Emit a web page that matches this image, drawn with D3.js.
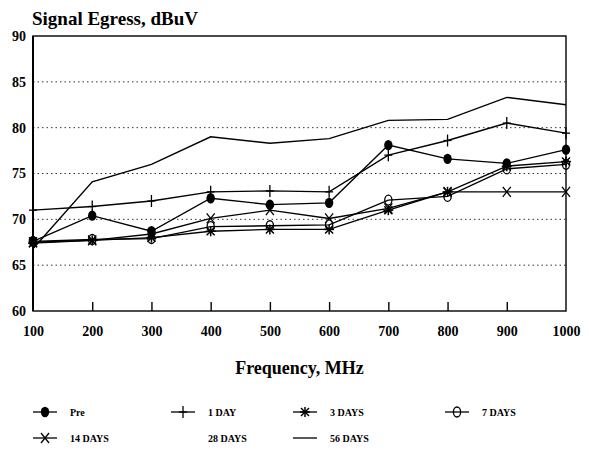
<!DOCTYPE html>
<html>
<head>
<meta charset="utf-8">
<script src="https://cdn.jsdelivr.net/npm/d3@7"></script>
<style>
  html, body { margin: 0; padding: 0; background: #fff; }
  svg { display: block; }
  text { font-family: "Liberation Serif", "Times New Roman", serif; font-weight: bold; fill: #000; }
</style>
</head>
<body>
<script>
const frequencies = [100, 200, 300, 400, 500, 600, 700, 800, 900, 1000];
const yTicks = [60, 65, 70, 75, 80, 85, 90];
const gridValues = [65, 70, 75, 80, 85];

const pre    = [67.6, 70.4, 68.7, 72.3, 71.6, 71.8, 78.1, 76.6, 76.1, 77.6];
const day1   = [71.0, 71.4, 72.0, 73.0, 73.1, 73.0, 77.0, 78.6, 80.5, 79.4];
const day3   = [67.4, 67.7, 68.0, 68.7, 68.9, 68.9, 71.0, 73.0, 75.8, 76.3];
const day7   = [67.6, 67.8, 67.9, 69.2, 69.3, 69.4, 72.1, 72.5, 75.5, 76.0];
const day14  = [67.5, 67.7, 68.4, 70.1, 71.0, 70.1, 71.2, 73.0, 73.0, 73.0];
const day28  = [];
const day56  = [66.8, 74.1, 76.0, 79.0, 78.3, 78.8, 80.8, 80.9, 83.3, 82.5];

const seriesNames = ["Pre", "1 DAY", "3 DAYS", "7 DAYS", "14 DAYS", "28 DAYS", "56 DAYS"];
const seriesValues = [pre, day1, day3, day7, day14, day28, day56];
const seriesMarkers = ["dot", "plus", "asterisk", "circle", "cross", "none", "none"];

const W = 589, H = 460;
const margin = { left: 33, top: 36, right: 23, bottom: 149 };
const pw = W - margin.left - margin.right;
const ph = H - margin.top - margin.bottom;

const svg = d3.select("body").append("svg").attr("width", W).attr("height", H);

const x = d3.scaleLinear().domain([100, 1000]).range([margin.left, margin.left + pw]);
const y = d3.scaleLinear().domain([60, 90]).range([margin.top + ph, margin.top]);

// dotted gridlines
svg.append("g").selectAll("line").data(gridValues).join("line")
  .attr("x1", x(100)).attr("x2", x(1000))
  .attr("y1", d => y(d)).attr("y2", d => y(d))
  .attr("stroke", "#333").attr("stroke-width", 1).attr("stroke-dasharray", "1.5,3");

// frame
svg.append("rect").attr("x", x(100)).attr("y", y(90)).attr("width", pw).attr("height", ph)
  .attr("fill", "none").attr("stroke", "#000").attr("stroke-width", 1.4);
svg.append("line").attr("x1", x(100)).attr("x2", x(100)).attr("y1", y(90)).attr("y2", y(60))
  .attr("stroke", "#000").attr("stroke-width", 2);

// x axis
const xAxis = d3.axisBottom(x).tickValues(frequencies).tickSize(-9).tickPadding(15).tickFormat(d3.format("d"));
const gx = svg.append("g").attr("transform", `translate(0,${y(60)})`).call(xAxis);
gx.select(".domain").remove();
gx.selectAll(".tick line").attr("stroke", "#000").attr("stroke-width", 1.4)
  .filter(d => d === 100 || d === 1000).remove();
gx.selectAll(".tick text").attr("font-size", 14).attr("font-family", "Liberation Serif").attr("font-weight", "bold").attr("fill", "#000");

// y axis
const yAxis = d3.axisLeft(y).tickValues(yTicks).tickSize(0).tickPadding(7).tickFormat(d3.format("d"));
const gy = svg.append("g").attr("transform", `translate(${x(100)},0)`).call(yAxis);
gy.select(".domain").remove();
gy.selectAll(".tick text").attr("font-size", 14).attr("font-family", "Liberation Serif").attr("font-weight", "bold").attr("fill", "#000");

// titles
svg.append("text").attr("x", 32).attr("y", 25).attr("font-size", 19).text("Signal Egress, dBuV");
svg.append("text").attr("x", x(550)).attr("y", 374).attr("text-anchor", "middle").attr("font-size", 18).text("Frequency, MHz");

// lines
const line = d3.line().x((d, i) => x(frequencies[i])).y(d => y(d));
seriesValues.forEach((vals, si) => {
  if (!vals.length) return;
  svg.append("path").datum(vals).attr("d", line)
    .attr("fill", "none").attr("stroke", "#000").attr("stroke-width", 1.4);
});

function drawMarker(g, type, cx, cy) {
  const s = "#000";
  if (type === "dot") {
    g.append("ellipse").attr("cx", cx).attr("cy", cy).attr("rx", 4.2).attr("ry", 5.2).attr("fill", s);
  } else if (type === "plus") {
    g.append("line").attr("x1", cx).attr("x2", cx).attr("y1", cy - 6).attr("y2", cy + 6).attr("stroke", s).attr("stroke-width", 1.3);
    g.append("line").attr("x1", cx - 4).attr("x2", cx + 4).attr("y1", cy).attr("y2", cy).attr("stroke", s).attr("stroke-width", 1.3);
  } else if (type === "asterisk") {
    [[0, -5, 0, 5], [-4, -4, 4, 4], [-4, 4, 4, -4], [-5, 0, 5, 0]].forEach(p =>
      g.append("line").attr("x1", cx + p[0]).attr("y1", cy + p[1]).attr("x2", cx + p[2]).attr("y2", cy + p[3])
        .attr("stroke", s).attr("stroke-width", 1.5));
  } else if (type === "circle") {
    g.append("ellipse").attr("cx", cx).attr("cy", cy).attr("rx", 3.6).attr("ry", 5).attr("fill", "none").attr("stroke", s).attr("stroke-width", 1.3);
  } else if (type === "cross") {
    [[-4, -5, 4, 5], [-4, 5, 4, -5]].forEach(p =>
      g.append("line").attr("x1", cx + p[0]).attr("y1", cy + p[1]).attr("x2", cx + p[2]).attr("y2", cy + p[3])
        .attr("stroke", s).attr("stroke-width", 1.3));
  }
}

seriesValues.forEach((vals, si) => {
  const g = svg.append("g");
  vals.forEach((v, i) => drawMarker(g, seriesMarkers[si], x(frequencies[i]), y(v)));
});

// legend
const legendPos = [[45, 412], [183, 412], [305, 412], [457, 412], [45, 438], [183, 438], [305, 438]];
seriesNames.forEach((name, i) => {
  const [cx, cy] = legendPos[i];
  const g = svg.append("g");
  if (seriesMarkers[i] !== "none" || name === "56 DAYS") {
    g.append("line").attr("x1", cx - 12).attr("x2", cx + 12).attr("y1", cy).attr("y2", cy)
      .attr("stroke", "#000").attr("stroke-width", 1.3);
  }
  drawMarker(g, seriesMarkers[i], cx, cy);
  g.append("text").attr("x", cx + 25).attr("y", cy + 4).attr("font-size", 10).text(name);
});
</script>
</body>
</html>
